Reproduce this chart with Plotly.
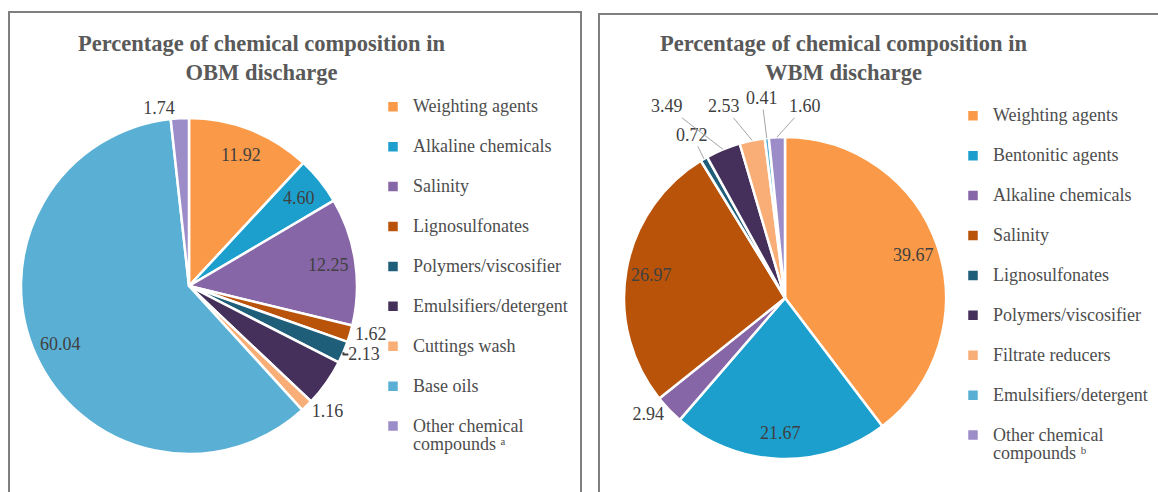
import math
import plotly.graph_objects as go

W, H = 1158, 492

# ---- data ----
obm_labels = ["Weighting agents", "Alkaline chemicals", "Salinity", "Lignosulfonates",
              "Polymers/viscosifier", "Emulsifiers/detergent", "Cuttings wash", "Base oils",
              "Other chemical<br>compounds ᵃ"]
obm_values = [11.92, 4.60, 12.25, 1.62, 2.13, 4.54, 1.16, 60.04, 1.74]
obm_labelmode = ["inside", "inside", "inside", "outside", "outside", "none", "outside", "inside", "outside"]

wbm_labels = ["Weighting agents", "Bentonitic agents", "Alkaline chemicals", "Salinity",
              "Lignosulfonates", "Polymers/viscosifier", "Filtrate reducers",
              "Emulsifiers/detergent", "Other chemical<br>compounds ᵇ"]
wbm_values = [39.67, 21.67, 2.94, 26.97, 0.72, 3.49, 2.53, 0.41, 1.60]
wbm_labelmode = ["inside", "inside", "outside", "inside", "callout", "callout", "callout", "callout", "callout"]
# label offsets (px) for the thin top slices of the WBM pie, drawn with leader lines
wbm_callout_offsets = {4: (-12, -24), 5: (-56, -43), 6: (-28, -34), 7: (-5, -40), 8: (28, -31)}

palette = ["#FA9A48", "#1C9FCC", "#8666A6", "#B9530A", "#1F5E78",
           "#44305A", "#F9AE78", "#5AB0D4", "#9C8DC8"]

title_obm = "Percentage of chemical composition in<br>OBM discharge"
title_wbm = "Percentage of chemical composition in<br>WBM discharge"

SERIF = "Liberation Serif"
LEG_SIZE = 18
LBL_SIZE = 18
TXT = "#404040"
INSIDE_R = 0.84

OBM_C = (189, 286, 168)
WBM_C = (785, 298, 161)


def px_x(x):
    return x / W


def px_y(y):
    return 1 - y / H


def legend_names(labels):
    out = []
    for lab in labels:
        if "<br>" in lab:
            first, second = lab.split("<br>")
            out.append(f"<span style='font-size:{LEG_SIZE}px'>{first}</span><br>"
                       f"<span style='font-size:{LEG_SIZE}px'>{second}</span>")
        else:
            out.append(f"<span style='font-size:{LEG_SIZE}px'>{lab}</span><br>&nbsp;")
    return out


def domain(cx, cy, r):
    return dict(x=[px_x(cx - r), px_x(cx + r)], y=[px_y(cy + r), px_y(cy - r)])


def pie_textpos(modes):
    return ["outside" if m == "outside" else "none" for m in modes]


def label_annotations(values, modes, center, offsets=None):
    """Value labels placed along each slice's mid-angle (clockwise from 12 o'clock)."""
    cx, cy, r = center
    total = sum(values)
    cum = 0.0
    out = []
    for i, (v, m) in enumerate(zip(values, modes)):
        mid = (cum + v / 2) / total * 2 * math.pi
        cum += v
        font = dict(family=SERIF, size=LBL_SIZE, color=TXT)
        if m == "inside":
            tx = cx + INSIDE_R * r * math.sin(mid)
            ty = cy - INSIDE_R * r * math.cos(mid)
            out.append(dict(text=f"{v:.2f}", x=px_x(tx), y=px_y(ty), xref="paper", yref="paper",
                            showarrow=False, xanchor="center", yanchor="middle", font=font))
        elif m == "callout":
            ax, ay = offsets[i]
            tx = cx + r * math.sin(mid)
            ty = cy - r * math.cos(mid)
            out.append(dict(text=f"{v:.2f}", x=px_x(tx), y=px_y(ty), xref="paper", yref="paper",
                            ax=ax, ay=ay, showarrow=True, arrowhead=0, arrowwidth=1,
                            arrowcolor="#A6A6A6", standoff=0, font=font))
    return out


fig = go.Figure()

fig.add_trace(go.Pie(
    labels=legend_names(obm_labels), values=obm_values,
    text=[f"{v:.2f}" for v in obm_values], textinfo="text",
    textposition=pie_textpos(obm_labelmode),
    sort=False, direction="clockwise", rotation=0,
    marker=dict(colors=palette, line=dict(color="white", width=2.5)),
    textfont=dict(family=SERIF, size=LBL_SIZE, color=TXT),
    domain=domain(*OBM_C), legend="legend", legendgroup="obm", hoverinfo="label+value",
))

fig.add_trace(go.Pie(
    labels=legend_names(wbm_labels), values=wbm_values,
    text=[f"{v:.2f}" for v in wbm_values], textinfo="text",
    textposition=pie_textpos(wbm_labelmode),
    sort=False, direction="clockwise", rotation=0,
    marker=dict(colors=palette, line=dict(color="white", width=2.5)),
    textfont=dict(family=SERIF, size=LBL_SIZE, color=TXT),
    domain=domain(*WBM_C), legend="legend2", legendgroup="wbm", hoverinfo="label+value",
))

annotations = []
annotations += label_annotations(obm_values, obm_labelmode, OBM_C)
annotations += label_annotations(wbm_values, wbm_labelmode, WBM_C, wbm_callout_offsets)
annotations += [
    dict(text=f"<b>{title_obm}</b>", x=px_x(261), y=px_y(58), xref="paper", yref="paper",
         showarrow=False, xanchor="center", yanchor="middle",
         font=dict(family=SERIF, size=22.5, color="#595959")),
    dict(text=f"<b>{title_wbm}</b>", x=px_x(843), y=px_y(58), xref="paper", yref="paper",
         showarrow=False, xanchor="center", yanchor="middle",
         font=dict(family=SERIF, size=22.5, color="#595959")),
]

leg_common = dict(font=dict(family=SERIF, size=14.2, color="#4D4D4D"),
                  valign="top", xanchor="left", yanchor="top",
                  bgcolor="rgba(0,0,0,0)", traceorder="normal")

fig.update_layout(
    width=W, height=H,
    margin=dict(l=0, r=0, t=0, b=0),
    paper_bgcolor="white", plot_bgcolor="white",
    showlegend=True,
    legend=dict(x=px_x(373), y=px_y(91), **leg_common),
    legend2=dict(x=px_x(953), y=px_y(100), **leg_common),
    annotations=annotations,
    shapes=[
        dict(type="rect", xref="paper", yref="paper",
             x0=px_x(9), x1=px_x(581), y0=px_y(520), y1=px_y(12),
             line=dict(color="#7F7F7F", width=2), fillcolor="rgba(0,0,0,0)", layer="above"),
        dict(type="rect", xref="paper", yref="paper",
             x0=px_x(599), x1=px_x(1180), y0=px_y(520), y1=px_y(14),
             line=dict(color="#7F7F7F", width=2), fillcolor="rgba(0,0,0,0)", layer="above"),
    ],
)

fig.write_html("out.html", config={"displayModeBar": False},
               post_script="document.body.style.margin='0';document.body.style.overflow='hidden';")
